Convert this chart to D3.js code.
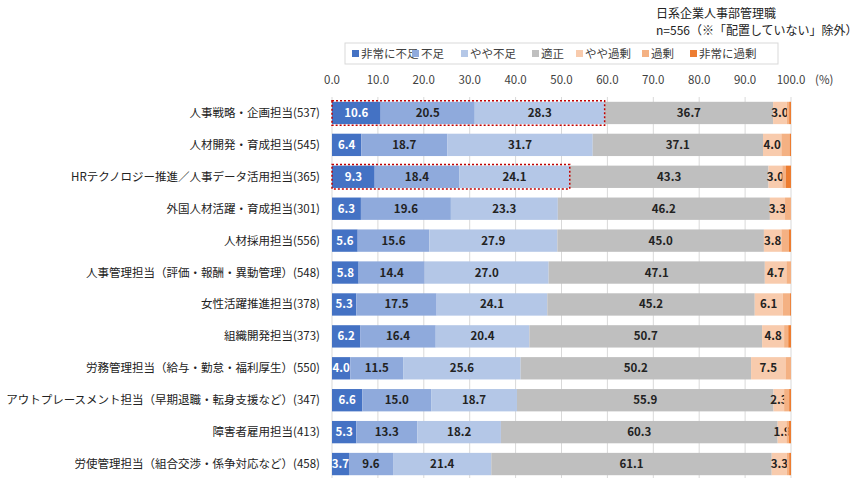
<!DOCTYPE html><html><head><meta charset="utf-8"><script src="https://cdn.jsdelivr.net/npm/d3@7"></script>
<style>body{margin:0;background:#fff;font-family:"Noto Sans CJK JP","Noto Sans",sans-serif}</style></head><body><svg id="c" width="865" height="490"></svg><script>
const categories=["人事戦略・企画担当(537)","人材開発・育成担当(545)","HRテクノロジー推進／人事データ活用担当(365)","外国人材活躍・育成担当(301)","人材採用担当(556)","人事管理担当（評価・報酬・異動管理）(548)","女性活躍推進担当(378)","組織開発担当(373)","労務管理担当（給与・勤怠・福利厚生）(550)","アウトプレースメント担当（早期退職・転身支援など）(347)","障害者雇用担当(413)","労使管理担当（組合交渉・係争対応など）(458)"];
const seriesNames=["非常に不足","不足","やや不足","適正","やや過剰","過剰","非常に過剰"];
const s1=[10.6,6.4,9.3,6.3,5.6,5.8,5.3,6.2,4.0,6.6,5.3,3.7];
const s2=[20.5,18.7,18.4,19.6,15.6,14.4,17.5,16.4,11.5,15.0,13.3,9.6];
const s3=[28.3,31.7,24.1,23.3,27.9,27.0,24.1,20.4,25.6,18.7,18.2,21.4];
const s4=[36.7,37.1,43.3,46.2,45.0,47.1,45.2,50.7,50.2,55.9,60.3,61.1];
const s5=[3.0,4.0,3.0,3.3,3.8,4.7,6.1,4.8,7.5,2.3,1.9,3.3];
const s6=[0.5,1.8,0.8,1.3,1.6,1.0,1.6,0.9,1.2,1.1,0.5,0.5];
const s7=[0.4,0.3,1.1,0.0,0.5,0.0,0.2,0.6,0.0,0.4,0.5,0.4];
const ticks=[0,10,20,30,40,50,60,70,80,90,100];
const highlighted=[0,2];
const colors=["#4472C4","#8FAADC","#B4C7E7","#BFBFBF","#F8CBAD","#F4B183","#ED7D31"];
const series=[s1,s2,s3,s4,s5,s6,s7];
const svg=d3.select("#c");
const x=d3.scaleLinear().domain([0,100]).range([332,791]);
const y=d3.scaleBand().domain(categories).range([97,480]).paddingInner(0.3).paddingOuter(0.15);
svg.append("g").selectAll("line").data(ticks).join("line").attr("x1",d=>x(d)).attr("x2",d=>x(d)).attr("y1",97).attr("y2",478).attr("stroke","#d9d9d9");
svg.append("g").selectAll("text").data(ticks).join("text").attr("x",d=>x(d)).attr("y",84).attr("text-anchor","middle").attr("font-size",11.5).attr("fill","#404040").text(d=>d.toFixed(1));
svg.append("text").attr("x",x(100)+24).attr("y",84).attr("font-size",11.5).attr("fill","#404040").text("(%)");
categories.forEach((c,i)=>{let acc=0;series.forEach((s,k)=>{const v=s[i];
 svg.append("rect").attr("x",x(acc)).attr("y",y(c)).attr("width",x(acc+v)-x(acc)).attr("height",y.bandwidth()).attr("fill",colors[k]);
 if(k<5&&v>0)svg.append("text").attr("x",x(acc+v/2)).attr("y",y(c)+y.bandwidth()/2+4).attr("text-anchor","middle").attr("font-size",11.5).attr("font-weight","bold").attr("fill",k===0?"#fff":"#222").text(v.toFixed(1));
 acc+=v;});
 svg.append("text").attr("x",320).attr("y",y(c)+y.bandwidth()/2+4).attr("text-anchor","end").attr("font-size",11.5).attr("fill","#222").text(c);
 if(highlighted.includes(i)){const t=s1[i]+s2[i]+s3[i];svg.append("rect").attr("x",x(0)).attr("y",y(c)-1).attr("width",x(t)-x(0)).attr("height",y.bandwidth()+2).attr("fill","none").attr("stroke","#C00000").attr("stroke-width",1.5).attr("stroke-dasharray","2,2");}
});
svg.append("rect").attr("x",345).attr("y",43).attr("width",433).attr("height",21).attr("fill","#fff").attr("stroke","#d9d9d9");
const lx=[352,412,461,532,576,642,690];
seriesNames.forEach((n,k)=>{svg.append("rect").attr("x",lx[k]).attr("y",50).attr("width",7).attr("height",7).attr("fill",colors[k]);
 svg.append("text").attr("x",lx[k]+9).attr("y",58).attr("font-size",11.5).attr("fill","#404040").text(n);});
svg.append("text").attr("x",656).attr("y",18).attr("font-size",12).attr("fill","#222").text("日系企業人事部管理職");
svg.append("text").attr("x",656).attr("y",35).attr("font-size",12).attr("fill","#222").text("n=556（※「配置していない」除外）");
</script></body></html>
